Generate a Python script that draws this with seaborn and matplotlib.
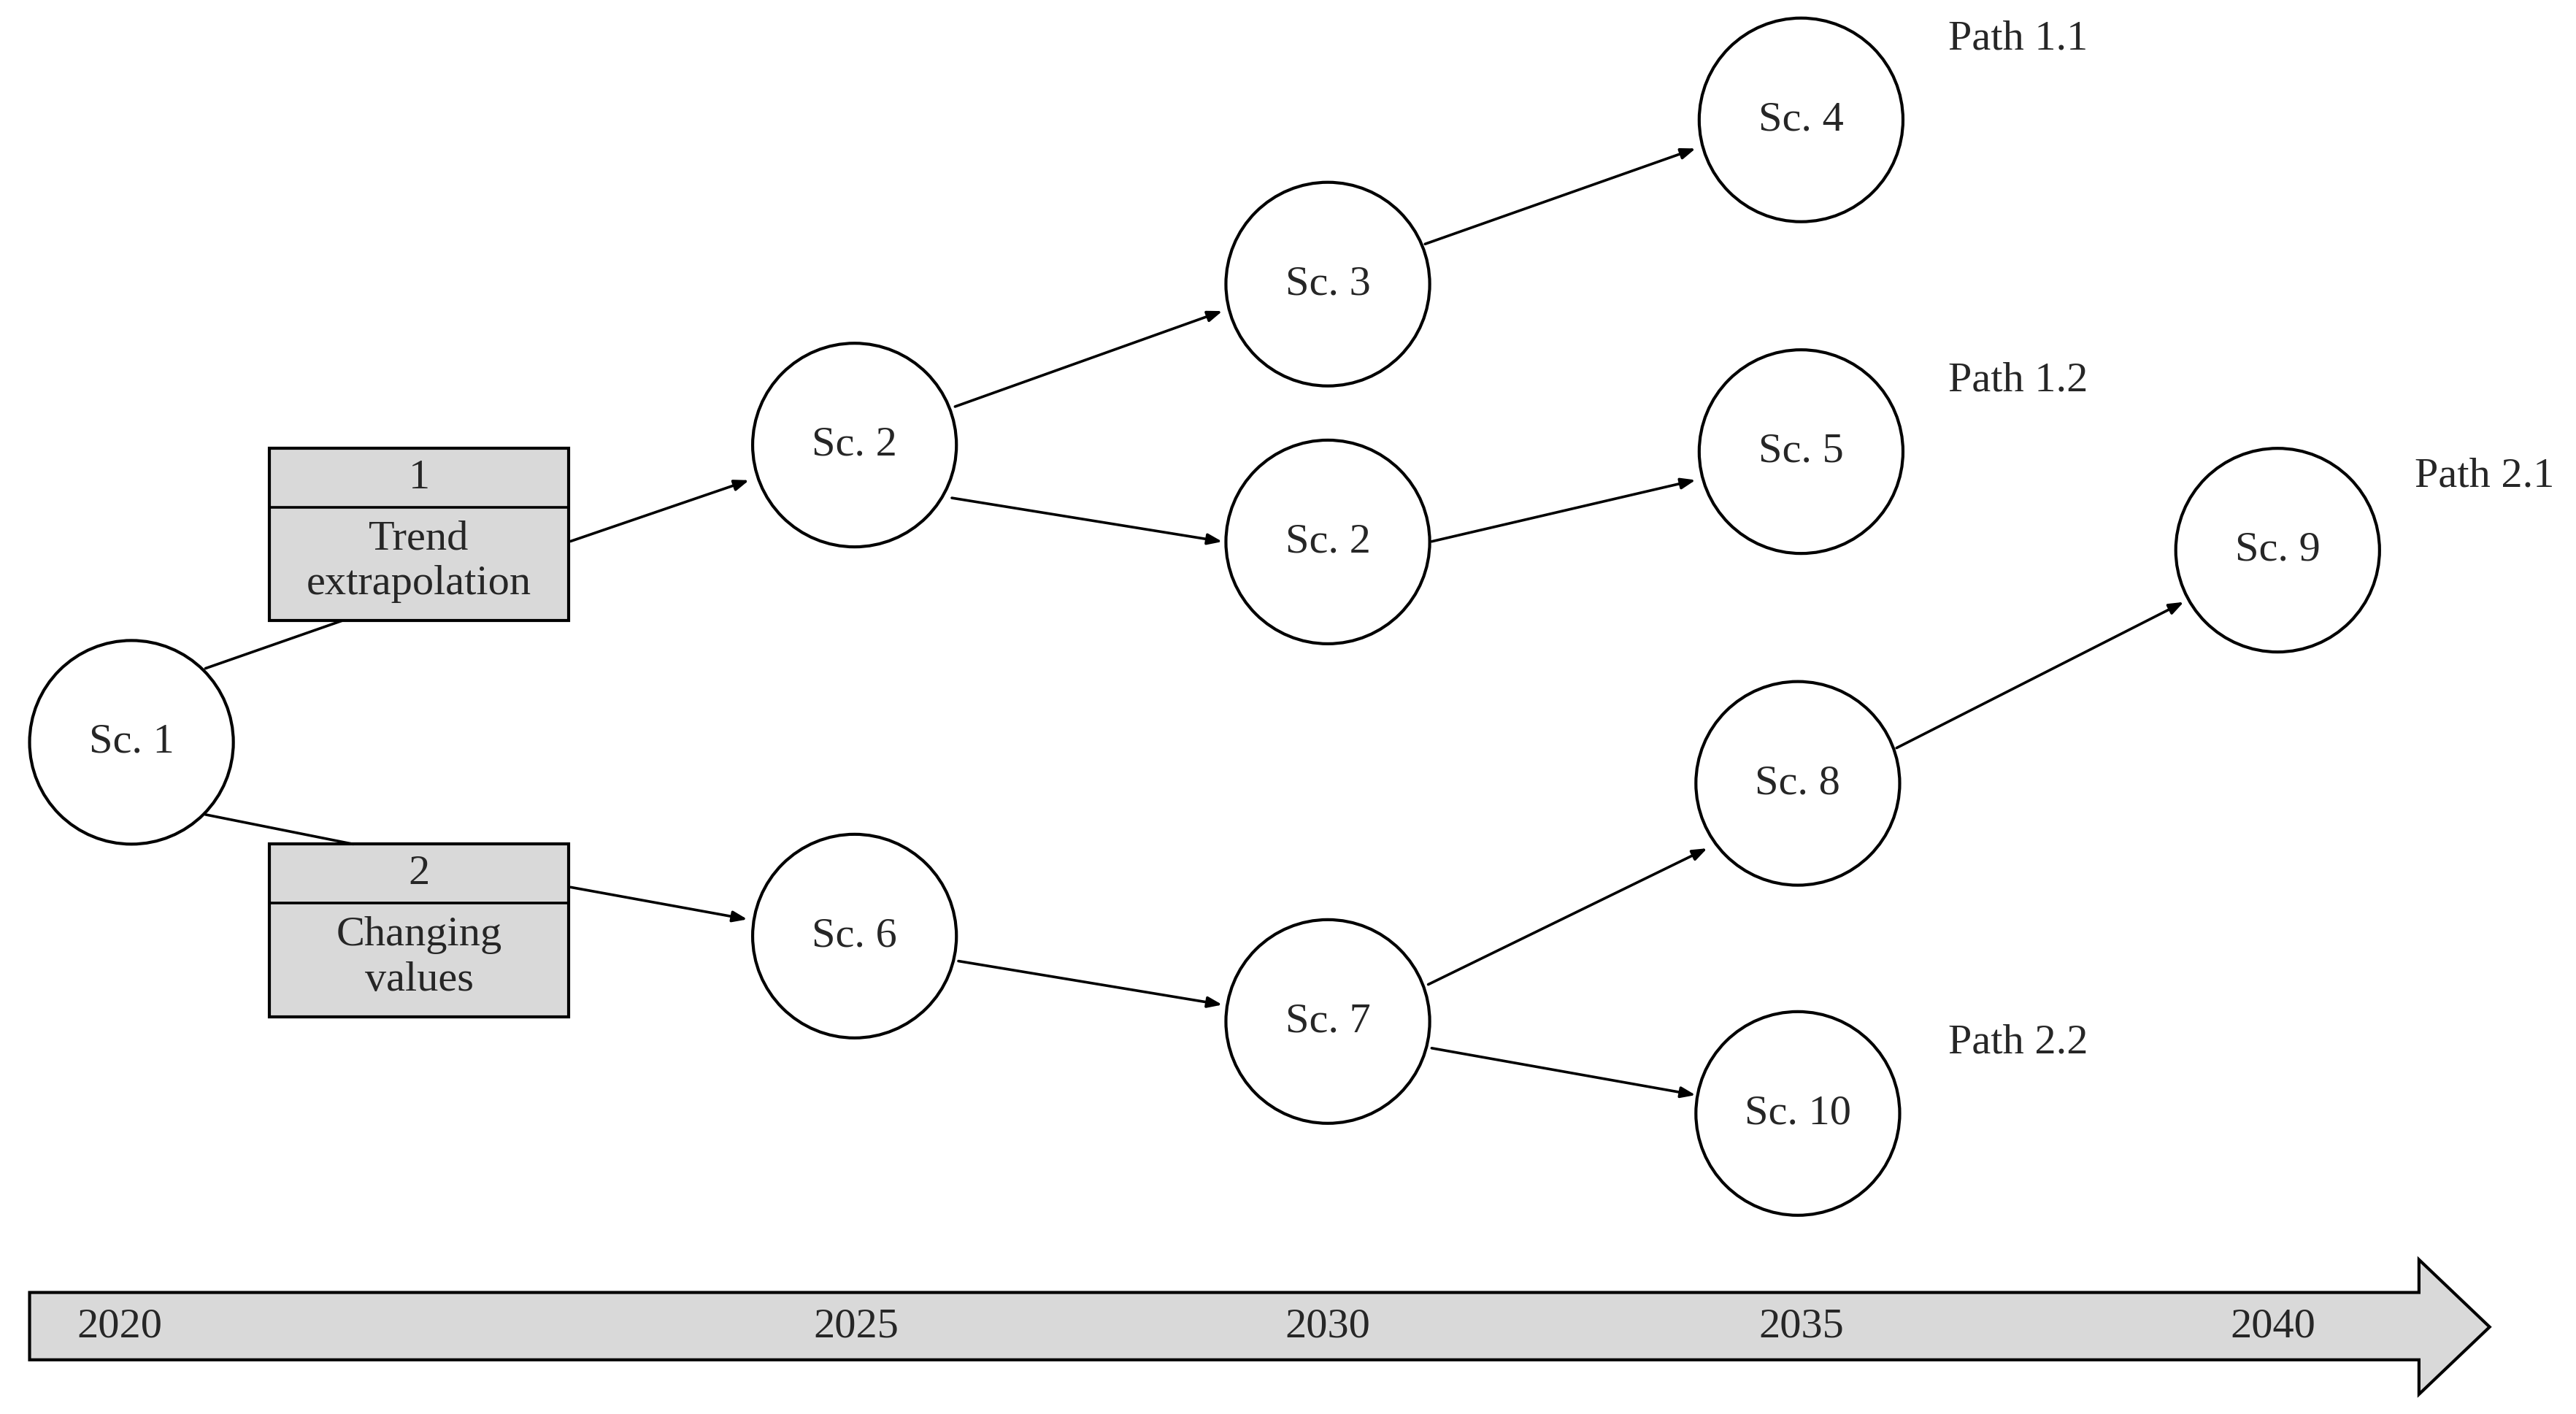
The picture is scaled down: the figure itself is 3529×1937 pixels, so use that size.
import matplotlib
matplotlib.use("Agg")
import matplotlib.pyplot as plt
from matplotlib.patches import Circle, Rectangle, Polygon
import seaborn as sns

sns.set_style("white")
plt.rcParams['font.family'] = ['Liberation Serif', 'DejaVu Serif']

node_labels = ["Sc. 1", "Sc. 2", "Sc. 6", "Sc. 3", "Sc. 2", "Sc. 7", "Sc. 4", "Sc. 5", "Sc. 8", "Sc. 10", "Sc. 9"]
node_x = [80, 520, 520, 808, 808, 808, 1096, 1096, 1094, 1094, 1386]
node_y = [452, 271, 570, 173, 330, 622, 73, 275, 477, 678, 335]
edges = [((346, 330), (457, 292)), ((346, 540), (456, 560)),
         ((580, 248), (745, 189)), ((578, 303), (745, 330)),
         ((866, 149), (1033, 90)), ((870, 330), (1033, 292)),
         ((582, 585), (745, 612)), ((868, 600), (1040, 516)),
         ((870, 638), (1033, 667)), ((1153, 456), (1330, 366))]
plain_lines = [((125, 407), (208, 378)), ((125, 496), (215, 514))]
box_nums = ["1", "2"]
box_texts = ["Trend\nextrapolation", "Changing\nvalues"]
box_top = [273, 514]
path_labels = ["Path 1.1", "Path 1.2", "Path 2.1", "Path 2.2"]
path_xy = [(1228, 24), (1228, 232), (1512, 290), (1228, 635)]
years = ["2020", "2025", "2030", "2035", "2040"]
year_x = [73, 521, 808, 1096, 1383]

fig = plt.figure(figsize=(35.3, 19.37), dpi=100)
ax = fig.add_axes([0, 0, 1, 1])
ax.set_xlim(0, 1568)
ax.set_ylim(861, 0)
ax.axis("off")
fs = 42

for lab, x, y in zip(node_labels, node_x, node_y):
    ax.add_patch(Circle((x, y), 62, fill=False, lw=3, ec="black"))
    ax.text(x, y, lab, ha="center", va="center", fontsize=fs)

for (a, b) in plain_lines:
    ax.plot([a[0], b[0]], [a[1], b[1]], color="black", lw=2.6)
for (a, b) in edges:
    ax.annotate("", xy=b, xytext=a,
                arrowprops=dict(arrowstyle="-|>,head_length=1.2,head_width=0.45", color="black", lw=2.6))

for num, txt, top in zip(box_nums, box_texts, box_top):
    ax.add_patch(Rectangle((164, top), 182, 105, fc="#d9d9d9", ec="black", lw=3))
    ax.plot([164, 346], [top + 36, top + 36], color="black", lw=2.6)
    ax.text(255, top + 18, num, ha="center", va="center", fontsize=fs)
    ax.text(255, top + 69, txt, ha="center", va="center", fontsize=fs, linespacing=1.25)

for lab, (x, y) in zip(path_labels, path_xy):
    ax.text(x, y, lab, ha="center", va="center", fontsize=fs)

ax.add_patch(Polygon([(18, 787), (1472, 787), (1472, 767), (1515, 808), (1472, 849),
                      (1472, 828), (18, 828)], closed=True, fc="#d9d9d9", ec="black", lw=3))
for y_lab, x in zip(years, year_x):
    ax.text(x, 808, y_lab, ha="center", va="center", fontsize=fs)

fig.savefig("out.png", dpi=100, facecolor="white")
